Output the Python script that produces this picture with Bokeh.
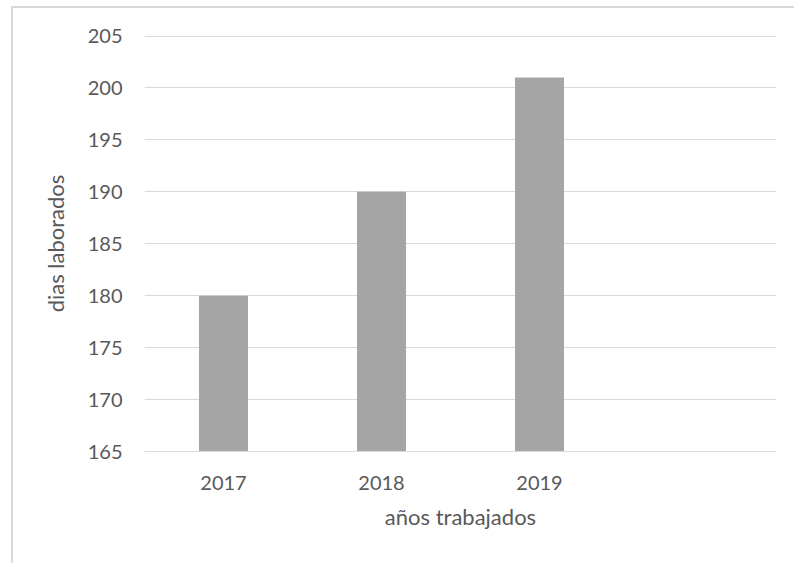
from bokeh.plotting import figure
from bokeh.models import FactorRange, Range1d, SingleIntervalTicker, ColumnDataSource
from bokeh.embed import file_html
from bokeh.resources import INLINE

# Data
years = ["2017", "2018", "2019"]
spacer = [" "]
dias = [180, 190, 201]
y_ticks_start, y_ticks_end, y_step = 165, 205, 5
x_title = "años trabajados"
y_title = "dias laborados"

FONT = "Lato"
TXT = "#595959"
GRID = "#D9D9D9"
BAR = "#A5A5A5"

src = ColumnDataSource(dict(x=years, top=dias, bottom=[y_ticks_start] * len(years)))

p = figure(
    width=783, height=557,
    x_range=FactorRange(factors=years + spacer, range_padding=0),
    y_range=Range1d(y_ticks_start, y_ticks_end + 0.05),
    output_backend="svg", toolbar_location=None,
    min_border_left=131, min_border_right=20, min_border_top=27, min_border_bottom=114,
)
p.styles = {"margin-left": "11px", "margin-top": "6px",
            "border-left": "2px solid #D9D9D9", "border-top": "2px solid #D9D9D9"}
p.outline_line_color = None
p.background_fill_color = "white"
p.border_fill_color = "white"

p.vbar(x="x", top="top", bottom="bottom", width=0.31, source=src,
       fill_color=BAR, line_color=None)

# Y axis
p.yaxis.ticker = SingleIntervalTicker(interval=y_step)
p.yaxis.axis_line_color = None
p.yaxis.major_tick_line_color = None
p.yaxis.minor_tick_line_color = None
p.yaxis.major_tick_out = 0
p.yaxis.major_tick_in = 0
p.yaxis.major_label_standoff = 18
p.yaxis.major_label_text_font = FONT
p.yaxis.major_label_text_font_size = "20px"
p.yaxis.major_label_text_color = TXT
p.yaxis.axis_label = y_title
p.yaxis.axis_label_text_font = FONT
p.yaxis.axis_label_text_font_size = "22px"
p.yaxis.axis_label_text_font_style = "normal"
p.yaxis.axis_label_text_color = TXT
p.yaxis.axis_label_standoff = 16

# X axis
p.xaxis.axis_line_color = GRID
p.xaxis.axis_line_width = 1
p.xaxis.major_tick_line_color = None
p.xaxis.minor_tick_line_color = None
p.xaxis.major_tick_out = 0
p.xaxis.major_tick_in = 0
p.xaxis.major_label_standoff = 18
p.xaxis.major_label_text_font = FONT
p.xaxis.major_label_text_font_size = "20px"
p.xaxis.major_label_text_color = TXT
p.xaxis.axis_label = x_title
p.xaxis.axis_label_text_font = FONT
p.xaxis.axis_label_text_font_size = "22px"
p.xaxis.axis_label_text_font_style = "normal"
p.xaxis.axis_label_text_color = TXT
p.xaxis.axis_label_standoff = 6

p.xgrid.grid_line_color = None
p.ygrid.grid_line_color = GRID
p.ygrid.grid_line_width = 1

open("out.html", "w").write(file_html(p, INLINE))
